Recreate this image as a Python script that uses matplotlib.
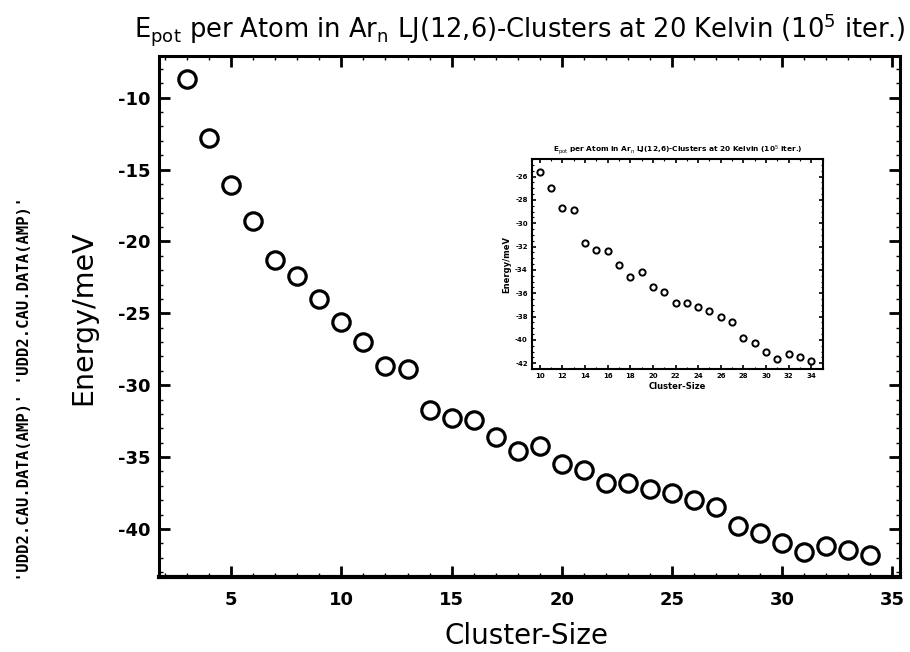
"""
Potential energy per atom in Ar_n LJ(12,6) clusters at 20 K, with zoomed inset.
"""
import matplotlib
matplotlib.use("Agg")
import matplotlib.pyplot as plt
from matplotlib.ticker import MultipleLocator

plt.rcParams["axes.unicode_minus"] = False

# cluster sizes and mean potential energy per atom (meV)
cluster_size = [3, 4, 5, 6, 7, 8, 9, 10, 11, 12, 13, 14, 15, 16, 17, 18,
                19, 20, 21, 22, 23, 24, 25, 26, 27, 28, 29, 30, 31, 32, 33, 34]
energy = [-8.7, -12.8, -16.1, -18.6, -21.3, -22.4, -24.0, -25.6, -27.0,
          -28.7, -28.9, -31.7, -32.3, -32.4, -33.6, -34.6, -34.2, -35.5,
          -35.9, -36.8, -36.8, -37.2, -37.5, -38.0, -38.5, -39.8, -40.3,
          -41.0, -41.6, -41.2, -41.5, -41.8]

x_ticks = [5, 10, 15, 20, 25, 30, 35]
y_ticks = [-10, -15, -20, -25, -30, -35, -40]
inset_x_ticks = list(range(10, 35, 2))
inset_y_ticks = list(range(-26, -43, -2))
inset_start = cluster_size.index(10)

title = r"E$_{\rm pot}$ per Atom in Ar$_{\rm n}$ LJ(12,6)-Clusters at 20 Kelvin (10$^{5}$ iter.)"
side_note = "'UDD2.CAU.DATA(AMP)' 'UDD2.CAU.DATA(AMP)'"

fig = plt.figure(figsize=(9.1, 6.52), dpi=100)
ax = fig.add_axes([0.1747, 0.115, 0.8143, 0.799])

ax.plot(cluster_size, energy, linestyle="none", marker="o", markersize=12.5,
        markerfacecolor="white", markeredgecolor="black", markeredgewidth=2.3)
ax.set_xlim(1.72, 35.35)
ax.set_ylim(-43.35, -7.1)
ax.set_xticks(x_ticks)
ax.set_yticks(y_ticks)
ax.xaxis.set_minor_locator(MultipleLocator(1))
ax.yaxis.set_minor_locator(MultipleLocator(1))
ax.tick_params(which="major", direction="in", length=8, width=2,
               top=True, right=True, labelsize=13)
ax.tick_params(which="minor", direction="in", length=3, width=1,
               top=True, right=True)
ax.tick_params(axis="x", pad=10)
ax.tick_params(axis="y", pad=6)
for lab in ax.get_xticklabels() + ax.get_yticklabels():
    lab.set_fontweight("bold")
for side in ax.spines.values():
    side.set_linewidth(2.2)
ax.spines["bottom"].set_linewidth(3)

fig.text(0.571, 0.955, title, ha="center", va="center", fontsize=18.5)
fig.text(527 / 910, 1 - 636 / 652, "Cluster-Size", ha="center", va="center",
         fontsize=20)
fig.text(83 / 910, 1 - 318 / 652, "Energy/meV", ha="center", va="center",
         fontsize=20.5, rotation=90)
fig.text(25 / 910, 1 - 389 / 652, side_note, ha="center", va="center",
         fontsize=11.2, rotation=90, family="DejaVu Sans Mono", weight="bold")

# inset: the same data for n >= 10
ins = fig.add_axes([0.5846, 0.434, 0.3198, 0.322])
ins.plot(cluster_size[inset_start:], energy[inset_start:], linestyle="none",
         marker="o", markersize=4.5, markerfacecolor="white",
         markeredgecolor="black", markeredgewidth=1.4)
ins.set_xlim(9.32, 35.03)
ins.set_ylim(-42.5, -24.5)
ins.set_xticks(inset_x_ticks)
ins.set_yticks(inset_y_ticks)
ins.xaxis.set_minor_locator(MultipleLocator(1))
ins.yaxis.set_minor_locator(MultipleLocator(0.5))
ins.tick_params(which="major", direction="in", length=3, width=1.2,
                top=True, right=True, labelsize=5, pad=3)
ins.tick_params(which="minor", direction="in", length=1.5, width=0.8,
                top=True, right=True)
for lab in ins.get_xticklabels() + ins.get_yticklabels():
    lab.set_fontweight("bold")
for side in ins.spines.values():
    side.set_linewidth(1.5)
ins.set_title(title, fontsize=5.3, fontweight="bold", pad=5)
ins.set_xlabel("Cluster-Size", fontsize=6, fontweight="bold", labelpad=2)
ins.set_ylabel("Energy/meV", fontsize=6, fontweight="bold", labelpad=3)

plt.savefig("out.png", dpi=100)
